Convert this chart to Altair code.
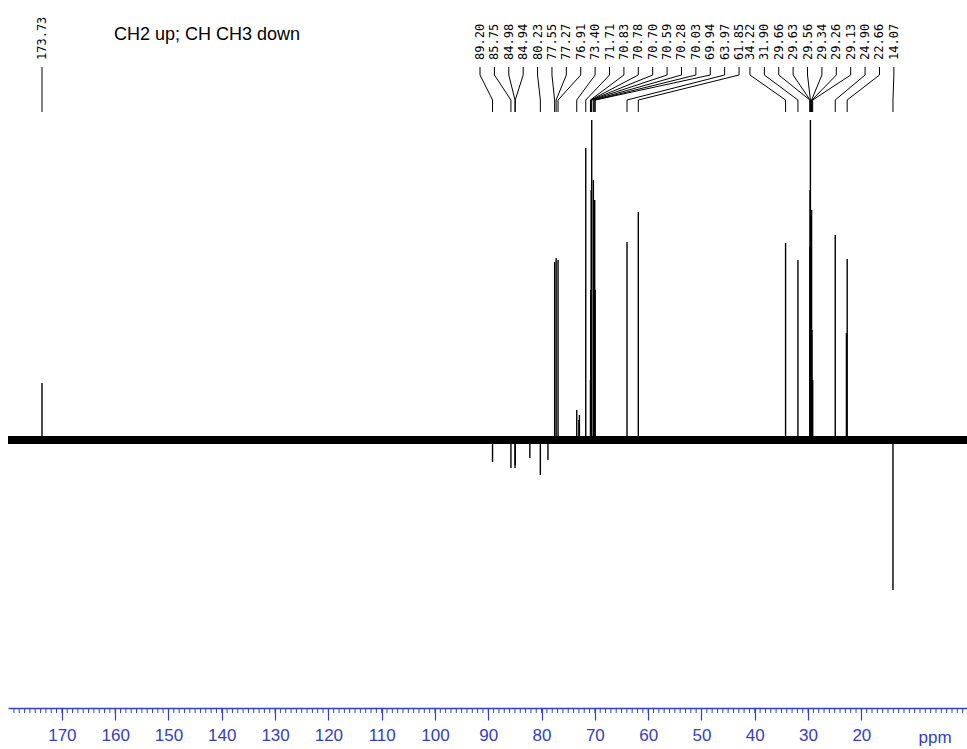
import altair as alt
import pandas as pd

# ---- data ----
# labelled peaks, left group (ppm, intensity: + = up, - = down)
g1_ppm = [89.20, 85.75, 84.98, 84.94, 80.23, 77.55, 77.27, 76.91, 73.40, 71.71,
          70.83, 70.78, 70.70, 70.59, 70.28, 70.03, 69.94, 63.97, 61.85]
g1_int = [-22, -28, -28, -25, -35, 178, 182, 180, 30, 292,
          60, 150, 250, 320, 260, 240, 150, 198, 228]
# labelled peaks, right group
g2_ppm = [34.22, 31.90, 29.66, 29.63, 29.56, 29.34, 29.26, 29.13, 24.90, 22.66, 14.07]
g2_int = [197, 180, 193, 250, 320, 230, 110, 60, 205, 181, -150]
# isolated labelled peak
iso_ppm = [173.73]
iso_int = [57]
# small unlabelled lines
extra_ppm = [82.2, 78.8, 73.0, 72.9, 22.8]
extra_int = [-18, -20, 20, 25, 107]

major_ticks = [170, 160, 150, 140, 130, 120, 110, 100, 90, 80, 70, 60, 50, 40, 30, 20]
minor_ticks = list(range(1, 180))

title_text = "CH2 up; CH CH3 down"
unit_text = "ppm"

# ---- layout constants ----
X_DOMAIN = [180.11, 0.18]
Y_DOMAIN = [-268, 440]
G1_START, G2_START, LABEL_STEP = 91.55, 40.90, -2.70
LAB_Y, L1, L2, L3, L4 = 380, 373, 365, 340, 328
BLUE = "#3040c8"

xs = alt.Scale(domain=X_DOMAIN, nice=False, zero=False)
ys = alt.Scale(domain=Y_DOMAIN, nice=False, zero=False)

peaks = pd.DataFrame({
    "ppm": g1_ppm + g2_ppm + iso_ppm + extra_ppm,
    "v": g1_int + g2_int + iso_int + extra_int,
})
peaks["zero"] = 0

labels = []
for i, p in enumerate(g1_ppm):
    labels.append({"id": f"a{i}", "ppm": p, "lx": G1_START + i * LABEL_STEP, "txt": f"{p:.2f}"})
for i, p in enumerate(g2_ppm):
    labels.append({"id": f"b{i}", "ppm": p, "lx": G2_START + i * LABEL_STEP, "txt": f"{p:.2f}"})
labels.append({"id": "c0", "ppm": iso_ppm[0], "lx": iso_ppm[0], "txt": f"{iso_ppm[0]:.2f}"})
lab_df = pd.DataFrame(labels)
lab_df["ly"] = LAB_Y

lead = []
for r in labels:
    for k, (xx, yy) in enumerate([(r["lx"], L1), (r["lx"], L2), (r["ppm"], L3), (r["ppm"], L4)]):
        if r["id"] == "c0" and k in (1, 2):
            continue
        lead.append({"id": r["id"], "k": k, "x": xx, "y": yy})
lead_df = pd.DataFrame(lead)

base_x_axis = alt.Axis(values=major_ticks, labelColor=BLUE, tickColor=BLUE, domainColor=BLUE,
                       tickSize=12, labelFontSize=17, labelFont="Liberation Sans",
                       labelPadding=7, grid=False, title=None, domainWidth=1.5, tickWidth=1.2,
                       labelFlush=False, labelOverlap=False)

baseline = alt.Chart(pd.DataFrame({"v": [0]})).mark_rule(color="black", strokeWidth=8).encode(
    y=alt.Y("v:Q", scale=ys, axis=None))

peak_layer = alt.Chart(peaks).mark_rule(color="black", strokeWidth=1.4).encode(
    x=alt.X("ppm:Q", scale=xs, axis=base_x_axis),
    y=alt.Y("v:Q", scale=ys, axis=None),
    y2="zero:Q",
)

lead_layer = alt.Chart(lead_df).mark_line(color="black", strokeWidth=1).encode(
    x=alt.X("x:Q", scale=xs), y=alt.Y("y:Q", scale=ys), detail="id:N", order="k:Q")

label_layer = alt.Chart(lab_df).mark_text(
    angle=270, align="left", baseline="middle", fontSize=12, font="DejaVu Sans Mono",
    color="black").encode(
    x=alt.X("lx:Q", scale=xs), y=alt.Y("ly:Q", scale=ys), text="txt:N")

minor_df = pd.DataFrame({"ppm": minor_ticks})
minor_df["a"] = Y_DOMAIN[0]
minor_df["b"] = Y_DOMAIN[0] - 5
minor_layer = alt.Chart(minor_df).mark_rule(color=BLUE, strokeWidth=1).encode(
    x=alt.X("ppm:Q", scale=xs), y=alt.Y("a:Q", scale=ys), y2="b:Q")

title_layer = alt.Chart(pd.DataFrame({"t": [title_text]})).mark_text(
    align="left", baseline="middle", fontSize=18, font="Liberation Sans", color="black").encode(
    x=alt.value(106), y=alt.value(35), text="t:N")

unit_layer = alt.Chart(pd.DataFrame({"t": [unit_text]})).mark_text(
    align="center", baseline="middle", fontSize=17, font="Liberation Sans", color=BLUE).encode(
    x=alt.value(927), y=alt.value(738), text="t:N")

chart = alt.layer(baseline, peak_layer, minor_layer, lead_layer, label_layer, title_layer, unit_layer).properties(
    width=959, height=708,
    padding={"left": 8, "top": 0, "right": 0, "bottom": 41},
    autosize=alt.AutoSizeParams(type="none"),
    background="white",
).configure_view(stroke=None)

chart.save("out.html", embed_options={"renderer": "svg", "actions": False})
